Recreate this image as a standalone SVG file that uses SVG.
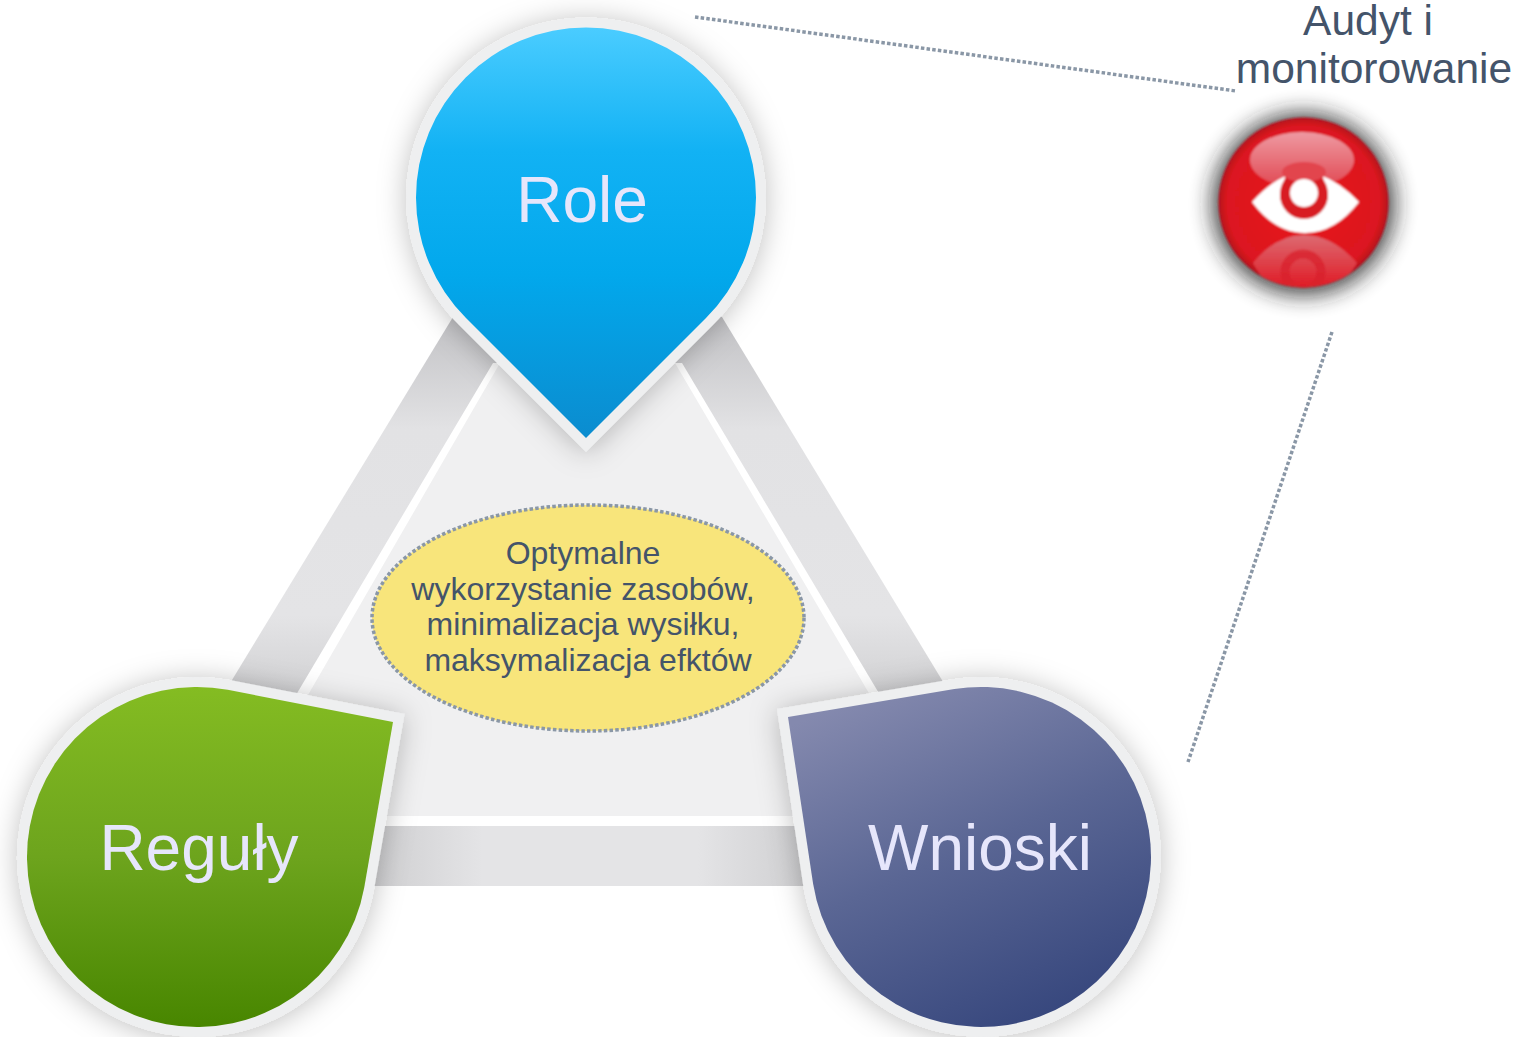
<svg xmlns="http://www.w3.org/2000/svg" width="1528" height="1037" viewBox="0 0 1528 1037">
<style>
.big{font-family:"Liberation Sans",Arial,sans-serif;font-size:64px;fill:#e6e6fb;text-anchor:middle}
.mid{font-family:"Liberation Sans",Arial,sans-serif;font-size:32px;fill:#44546a;text-anchor:middle}
.top{font-family:"Liberation Sans",Arial,sans-serif;font-size:42.5px;fill:#44546a;text-anchor:middle}
.dot{fill:none;stroke:#8a97a6;stroke-width:3.5;stroke-dasharray:3.5 2.2}
.rim{fill:#eeeff0;filter:url(#sh)}
</style>
<defs>
<filter id="sh" x="-20%" y="-20%" width="140%" height="140%"><feDropShadow dx="0" dy="2" stdDeviation="14" flood-color="#000" flood-opacity=".25"/></filter>
<filter id="glow" x="-40%" y="-40%" width="180%" height="180%"><feGaussianBlur stdDeviation="11"/></filter>
<filter id="soft" x="-5%" y="-5%" width="110%" height="110%"><feGaussianBlur stdDeviation=".8"/></filter>
<linearGradient id="gBlue" x1="0" y1="28" x2="0" y2="438" gradientUnits="userSpaceOnUse"><stop offset="0" stop-color="#4accff"/><stop offset=".3" stop-color="#12b2f4"/><stop offset=".6" stop-color="#02a8ec"/><stop offset="1" stop-color="#0b8ccf"/></linearGradient>
<linearGradient id="gGreen" x1="0" y1="687" x2="0" y2="1027" gradientUnits="userSpaceOnUse"><stop offset="0" stop-color="#84bc22"/><stop offset=".5" stop-color="#6da41d"/><stop offset="1" stop-color="#488600"/></linearGradient>
<linearGradient id="gNavy" x1="860" y1="695" x2="1010" y2="1030" gradientUnits="userSpaceOnUse"><stop offset="0" stop-color="#8489ae"/><stop offset=".5" stop-color="#5a6694"/><stop offset="1" stop-color="#38487e"/></linearGradient>
<linearGradient id="gSide" x1="0" y1="317" x2="0" y2="690" gradientUnits="userSpaceOnUse"><stop offset="0" stop-color="#c2c2c5"/><stop offset=".3" stop-color="#e2e2e4"/><stop offset=".8" stop-color="#e4e4e6"/><stop offset="1" stop-color="#d2d2d4"/></linearGradient>
<linearGradient id="gBand" x1="375" y1="0" x2="805" y2="0" gradientUnits="userSpaceOnUse"><stop offset="0" stop-color="#cfcfd1"/><stop offset=".25" stop-color="#e4e4e6"/><stop offset=".75" stop-color="#e4e4e6"/><stop offset="1" stop-color="#cfcfd1"/></linearGradient>
<linearGradient id="gHi" x1="0" y1="132" x2="0" y2="190" gradientUnits="userSpaceOnUse"><stop offset="0" stop-color="#ee9aa2"/><stop offset="1" stop-color="#e0444e"/></linearGradient>
<linearGradient id="gRef" x1="0" y1="235" x2="0" y2="285" gradientUnits="userSpaceOnUse"><stop offset="0" stop-color="#dd6a72"/><stop offset="1" stop-color="#e01e28"/></linearGradient>
<radialGradient id="gRed" cx=".5" cy=".5" r=".5"><stop offset="0" stop-color="#e8141e"/><stop offset=".9" stop-color="#dc1620"/><stop offset="1" stop-color="#b51019"/></radialGradient>
<clipPath id="cEye"><circle cx="1303.5" cy="202.5" r="85"/></clipPath>
</defs>
<rect width="1528" height="1037" fill="#fff"/>
<g id="triangle">
<polygon points="453,317 232,680 197,886 980,886 945,685 722,317 586,250" fill="url(#gSide)"/>
<rect x="350" y="826" width="470" height="60" fill="url(#gBand)"/>
<polygon points="493,363 296,695 375,826 805,826 880,695 682,363" fill="#fff"/>
<polygon points="500,363 308,695 375,816 805,816 870,695 675,363" fill="#f0f0f1"/>
</g>
<g id="connectors">
<line class="dot" x1="695" y1="17" x2="1236" y2="91"/>
<line class="dot" x1="1332" y1="332" x2="1188" y2="762"/>
</g>
<g id="center">
<ellipse cx="588" cy="618" rx="216" ry="113" class="dot" style="fill:#f8e57b"/>
<text class="mid" x="583" y="564">Optymalne</text>
<text class="mid" x="583" y="600">wykorzystanie zasobów,</text>
<text class="mid" x="583" y="635">minimalizacja wysiłku,</text>
<text class="mid" x="588" y="671">maksymalizacja efktów</text>
</g>
<g id="role">
<path class="rim" d="M586,452 L459,325 A180,180 0 1 1 713,325 Z"/>
<path fill="url(#gBlue)" d="M586,438 L466,318 A170,170 0 1 1 706,318 Z"/>
<text class="big" x="582" y="222">Role</text>
</g>
<g id="reguly">
<path class="rim" d="M404.5,714 L229.5,680 A180,180 0 1 0 374,889.5 Z"/>
<path fill="url(#gGreen)" d="M393,722 L227.7,689.8 A170,170 0 1 0 364.2,887.7 Z"/>
<text class="big" x="199" y="870">Reguły</text>
</g>
<g id="wnioski">
<path class="rim" d="M777,709 L952.7,679.2 A180,180 0 1 1 803.2,885.3 Z"/>
<path fill="url(#gNavy)" d="M788,717 L954.3,689.1 A170,170 0 1 1 813.1,883.7 Z"/>
<text class="big" x="980" y="870">Wnioski</text>
</g>
<g id="audyt">
<text class="top" x="1368" y="35">Audyt i</text>
<text class="top" x="1374" y="83">monitorowanie</text>
<circle cx="1303.5" cy="204" r="91" fill="#222" opacity=".85" filter="url(#glow)"/>
<g filter="url(#soft)">
<circle cx="1303.5" cy="202.5" r="85" fill="url(#gRed)"/>
<ellipse cx="1302" cy="160" rx="52" ry="28" fill="url(#gHi)"/>
<g clip-path="url(#cEye)">
<path d="M1253,263 Q1276,235 1304,235 Q1332,235 1357,263 Q1335,300 1304,300 Q1273,300 1253,263 Z" fill="url(#gRef)"/>
<circle cx="1303" cy="272" r="18" fill="none" stroke="#d8222c" stroke-width="9" opacity=".75"/>
</g>
<path d="M1252,202 Q1270,182 1288,175 L1320,175 Q1340,182 1359,202 Q1335,233 1305,233 Q1275,233 1252,202 Z" fill="#fff"/>
<path d="M1287,171 L1321,171 L1328,195 A24,24 0 0 1 1280,195 Z" fill="#d81a24"/>
<circle cx="1304" cy="194" r="24" fill="#d81a24"/>
<ellipse cx="1304" cy="172" rx="22" ry="10" fill="#e2444e"/>
<circle cx="1304" cy="193" r="14" fill="#fff"/>
</g>
</g>
</svg>
